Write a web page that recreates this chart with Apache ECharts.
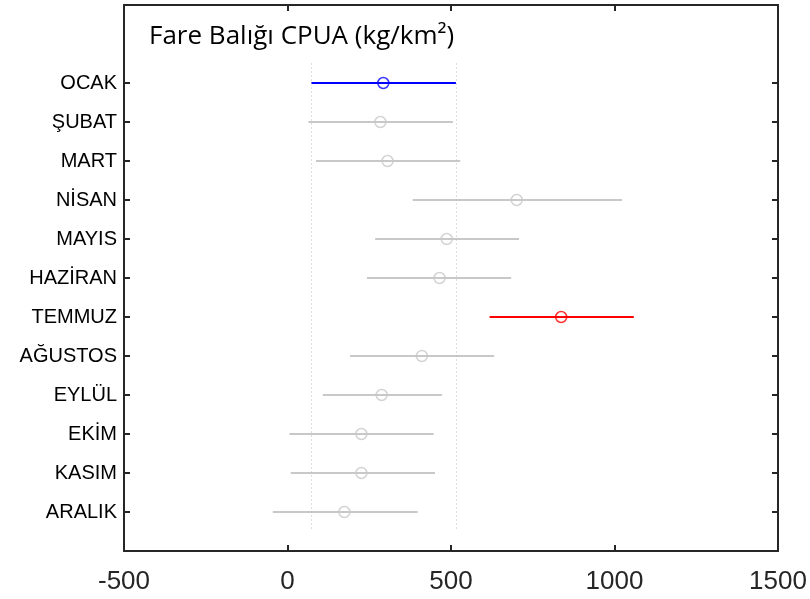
<!DOCTYPE html>
<html>
<head>
<meta charset="utf-8">
<script src="https://cdn.jsdelivr.net/npm/echarts@6/dist/echarts.min.js"></script>
<style>
  html, body { margin: 0; padding: 0; background: #fff; }
  #chart { width: 810px; height: 599px; }
</style>
</head>
<body>
<div id="chart"></div>
<script>
// aylar ve CPUA degerleri (ortalama + alt/ust sinir)
var months = ['OCAK', 'ŞUBAT', 'MART', 'NİSAN', 'MAYIS', 'HAZİRAN', 'TEMMUZ', 'AĞUSTOS', 'EYLÜL', 'EKİM', 'KASIM', 'ARALIK']
var meanValues = [293, 284, 306, 701, 487, 465, 837, 411, 288, 226, 226, 174]
var lowerValues = [73, 64, 87, 383, 268, 243, 618, 191, 108, 6, 10, -45]
var upperValues = [515, 506, 528, 1023, 708, 684, 1059, 632, 472, 447, 451, 398]
var xTicks = [-500, 0, 500, 1000, 1500]

var GRAY = '#c8c8c8'
function rowColor(i) {
  if (i === 0) return '#0000ff'
  if (i === 6) return '#ff0000'
  return GRAY
}

var monthIdx = months.map(function(m, i) { return i })

var chart = echarts.init(document.getElementById('chart'))

var barData = months.map(function(m, i) {
  return [lowerValues[i], upperValues[i], i]
})
var meanData = months.map(function(m, i) {
  return {
    value: [meanValues[i], i],
    itemStyle: { borderColor: rowColor(i) }
  }
})

function axisBase(extra) {
  return Object.assign({
    axisLine: { onZero: false, lineStyle: { color: '#262626', width: 2 } },
    axisTick: { inside: true, length: 6, lineStyle: { color: '#262626', width: 2 } },
    splitLine: { show: false }
  }, extra)
}

var yTick = { inside: true, length: 6, customValues: monthIdx, lineStyle: { color: '#262626', width: 2 } }

chart.setOption({
  animation: false,
  title: {
    text: 'Fare Balığı CPUA (kg/km²)',
    left: 149,
    top: 24,
    padding: 0,
    textStyle: { fontFamily: 'Open Sans', fontSize: 26, fontWeight: 'normal', color: '#000' }
  },
  grid: { left: 124, right: 32, top: 5, bottom: 48 },
  xAxis: [
    axisBase({
      type: 'value',
      min: xTicks[0],
      max: xTicks[xTicks.length - 1],
      interval: 500,
      axisLabel: {
        fontFamily: 'Liberation Sans', fontSize: 26, color: '#262626', margin: 18,
        formatter: function(v) { return String(v) }
      }
    }),
    axisBase({
      type: 'value',
      position: 'top',
      min: xTicks[0],
      max: xTicks[xTicks.length - 1],
      interval: 500,
      axisLabel: { show: false }
    })
  ],
  yAxis: [
    axisBase({
      type: 'value',
      inverse: true,
      min: -2,
      max: 12,
      interval: 1,
      axisTick: yTick,
      axisLabel: {
        customValues: monthIdx,
        formatter: function(v) { return months[v] || '' },
        fontFamily: 'Liberation Sans',
        fontSize: 20,
        color: '#000',
        margin: 7
      }
    }),
    axisBase({
      type: 'value',
      position: 'right',
      inverse: true,
      min: -2,
      max: 12,
      interval: 1,
      axisTick: yTick,
      axisLabel: { show: false }
    })
  ],
  series: [
    {
      type: 'custom',
      xAxisIndex: 0,
      yAxisIndex: 0,
      data: barData,
      renderItem: function(params, api) {
        var i = api.value(2)
        var p1 = api.coord([api.value(0), i])
        var p2 = api.coord([api.value(1), i])
        return {
          type: 'line',
          shape: { x1: p1[0], y1: p1[1], x2: p2[0], y2: p2[1] },
          style: { stroke: rowColor(i), lineWidth: 2 }
        }
      },
      encode: { x: [0, 1], y: 2 },
      markLine: {
        silent: true,
        symbol: 'none',
        label: { show: false },
        lineStyle: { color: '#bdbdbd', width: 1, type: [1, 3] },
        data: [
          [{ coord: [lowerValues[0], -0.5] }, { coord: [lowerValues[0], 11.5] }],
          [{ coord: [upperValues[0], -0.5] }, { coord: [upperValues[0], 11.5] }]
        ]
      },
      z: 2
    },
    {
      type: 'scatter',
      xAxisIndex: 0,
      yAxisIndex: 0,
      data: meanData,
      symbol: 'circle',
      symbolSize: 11,
      itemStyle: { color: 'rgba(0,0,0,0)', borderWidth: 1.5 },
      z: 3
    }
  ]
})
</script>
</body>
</html>
